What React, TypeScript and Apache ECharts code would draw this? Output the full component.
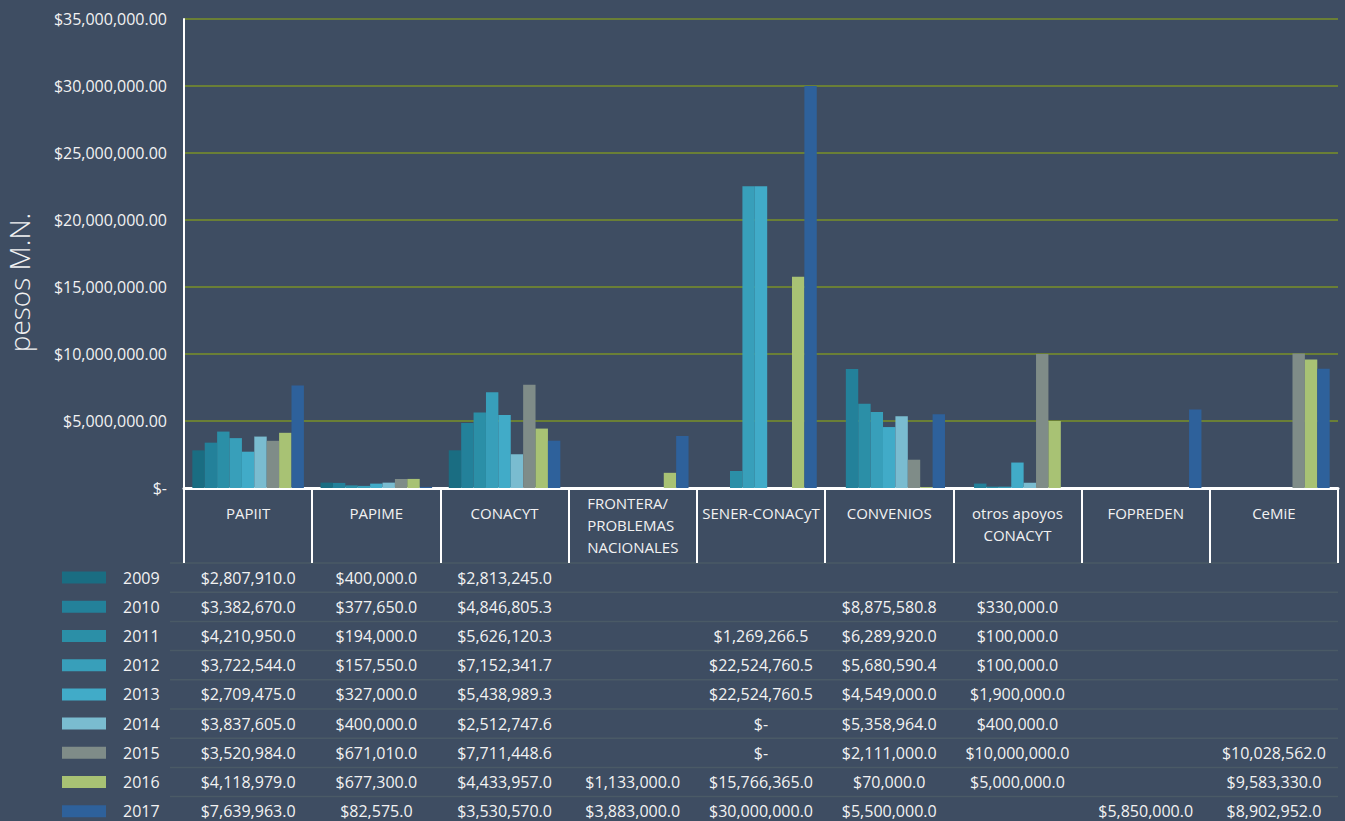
import React, { useEffect, useRef } from 'react';
import * as echarts from 'echarts';

const categories = [
  'PAPIIT',
  'PAPIME',
  'CONACYT',
  'FRONTERA/\nPROBLEMAS\nNACIONALES',
  'SENER-CONACyT',
  'CONVENIOS',
  'otros apoyos\nCONACYT',
  'FOPREDEN',
  'CeMiE',
];

const years = ['2009', '2010', '2011', '2012', '2013', '2014', '2015', '2016', '2017'];

const v2009 = [2807910, 400000, 2813245, null, null, null, null, null, null];
const v2010 = [3382670, 377650, 4846805.3, null, null, 8875580.8, 330000, null, null];
const v2011 = [4210950, 194000, 5626120.3, null, 1269266.5, 6289920, 100000, null, null];
const v2012 = [3722544, 157550, 7152341.7, null, 22524760.5, 5680590.4, 100000, null, null];
const v2013 = [2709475, 327000, 5438989.3, null, 22524760.5, 4549000, 1900000, null, null];
const v2014 = [3837605, 400000, 2512747.6, null, 0, 5358964, 400000, null, null];
const v2015 = [3520984, 671010, 7711448.6, null, 0, 2111000, 10000000, null, 10028562];
const v2016 = [4118979, 677300, 4433957, 1133000, 15766365, 70000, 5000000, null, 9583330];
const v2017 = [7639963, 82575, 3530570, 3883000, 30000000, 5500000, null, 5850000, 8902952];

const seriesValues = [v2009, v2010, v2011, v2012, v2013, v2014, v2015, v2016, v2017];

const colors = [
  '#1a6d82',
  '#23819a',
  '#2b8fa7',
  '#389fba',
  '#41abc8',
  '#7abcd0',
  '#7f8c88',
  '#a8c274',
  '#2e619b',
];

const yMin = 0;
const yMax = 35000000;
const yInterval = 5000000;

const BG = '#3e4d62';
const TEXT = '#f2f2f2';
const FONT = '"Open Sans", "Noto Sans", sans-serif';

function fmtTable(v: number | null): string {
  if (v === null || v === undefined) return '';
  if (v === 0) return '$-';
  return '$' + v.toLocaleString('en-US', { minimumFractionDigits: 1, maximumFractionDigits: 1 });
}

function fmtAxis(v: number): string {
  if (v === 0) return '$-';
  return '$' + v.toLocaleString('en-US', { minimumFractionDigits: 2, maximumFractionDigits: 2 });
}

export default function App() {
  const ref = useRef<HTMLDivElement>(null);

  useEffect(() => {
    if (!ref.current) return;
    const chart = echarts.init(ref.current, null, { renderer: 'svg' });
    const tickLen = 75;
    const catData = categories.map((c) =>
      c.indexOf('FRONTERA') === 0
        ? { value: c, textStyle: { verticalAlign: 'middle', padding: [46, 0, 0, 0] } }
        : c
    );
    chart.setOption({
      animation: false,
      backgroundColor: BG,
      textStyle: { fontFamily: FONT },
      grid: { left: 184, right: 7, top: 19, bottom: 333, containLabel: false, outerBoundsMode: 'none' },
      xAxis: {
        type: 'category',
        data: catData,
        boundaryGap: true,
        axisLine: { show: true, lineStyle: { color: '#ffffff', width: 3 } },
        axisTick: { show: true, interval: 0, length: tickLen, lineStyle: { color: '#ffffff', width: 2 } },
        axisLabel: {
          interval: 0,
          margin: 14,
          color: TEXT,
          fontSize: 15,
          lineHeight: 22,
          fontFamily: FONT,
          formatter: (v: string) => (v.indexOf('FRONTERA') === 0 ? '{l|' + v + '}' : v),
          rich: {
            l: { color: TEXT, fontSize: 15, lineHeight: 22, fontFamily: FONT, align: 'left' },
          },
        },
      },
      yAxis: {
        type: 'value',
        min: yMin,
        max: yMax,
        interval: yInterval,
        name: 'pesos M.N.',
        nameLocation: 'middle',
        nameRotate: 90,
        nameGap: 151,
        nameTextStyle: { color: TEXT, fontSize: 28, fontWeight: 300, fontFamily: FONT, padding: [0, 58, 0, 0] },
        axisLine: { show: true, lineStyle: { color: '#ffffff', width: 2 } },
        axisTick: { show: false },
        axisLabel: { color: TEXT, fontSize: 16, margin: 17, fontFamily: FONT, formatter: fmtAxis },
        splitLine: { show: true, lineStyle: { color: '#6a7f36', width: 2 } },
      },
      series: years.map((y, i) => ({
        name: y,
        type: 'bar',
        data: seriesValues[i],
        barGap: '0%',
        barCategoryGap: '13%',
        itemStyle: { color: colors[i] },
      })),
    });

    const baseY = chart.convertToPixel({ yAxisIndex: 0 }, 0) as number;
    const rightX = chart.convertToPixel({ xAxisIndex: 0 }, categories.length - 1) as number;
    const leftX = chart.convertToPixel({ xAxisIndex: 0 }, 0) as number;
    const bandW = categories.length > 1 ? (rightX - leftX) / (categories.length - 1) : 0;
    const tableTop = baseY + tickLen;
    const rowH = 29.2;
    const lineRight = rightX + bandW / 2;

    const graphic: any[] = [];
    for (let k = 0; k < years.length; k++) {
      graphic.push({
        type: 'line',
        shape: { x1: 170, y1: tableTop + rowH * k, x2: lineRight, y2: tableTop + rowH * k },
        style: { stroke: '#4a5a66', lineWidth: 1.5 },
        silent: true,
      });
    }
    years.forEach((y, i) => {
      const cy = tableTop + rowH * i + rowH / 2;
      graphic.push({
        type: 'rect',
        shape: { x: 62, y: cy - 6, width: 44, height: 12 },
        style: { fill: colors[i] },
        silent: true,
      });
      graphic.push({
        type: 'text',
        x: 123,
        y: cy,
        style: { text: y, fill: TEXT, font: '16px ' + FONT, textAlign: 'left', textVerticalAlign: 'middle' },
        silent: true,
      });
      seriesValues[i].forEach((v, c) => {
        const t = fmtTable(v as number | null);
        if (!t) return;
        const cx = chart.convertToPixel({ xAxisIndex: 0 }, c) as number;
        graphic.push({
          type: 'text',
          x: cx,
          y: cy,
          style: { text: t, fill: TEXT, font: '16px ' + FONT, textAlign: 'center', textVerticalAlign: 'middle' },
          silent: true,
        });
      });
    });
    chart.setOption({ graphic });

    return () => chart.dispose();
  }, []);

  return (
    <div
      ref={ref}
      style={{ position: 'fixed', left: 0, top: 0, width: 1345, height: 821, background: BG }}
    />
  );
}
